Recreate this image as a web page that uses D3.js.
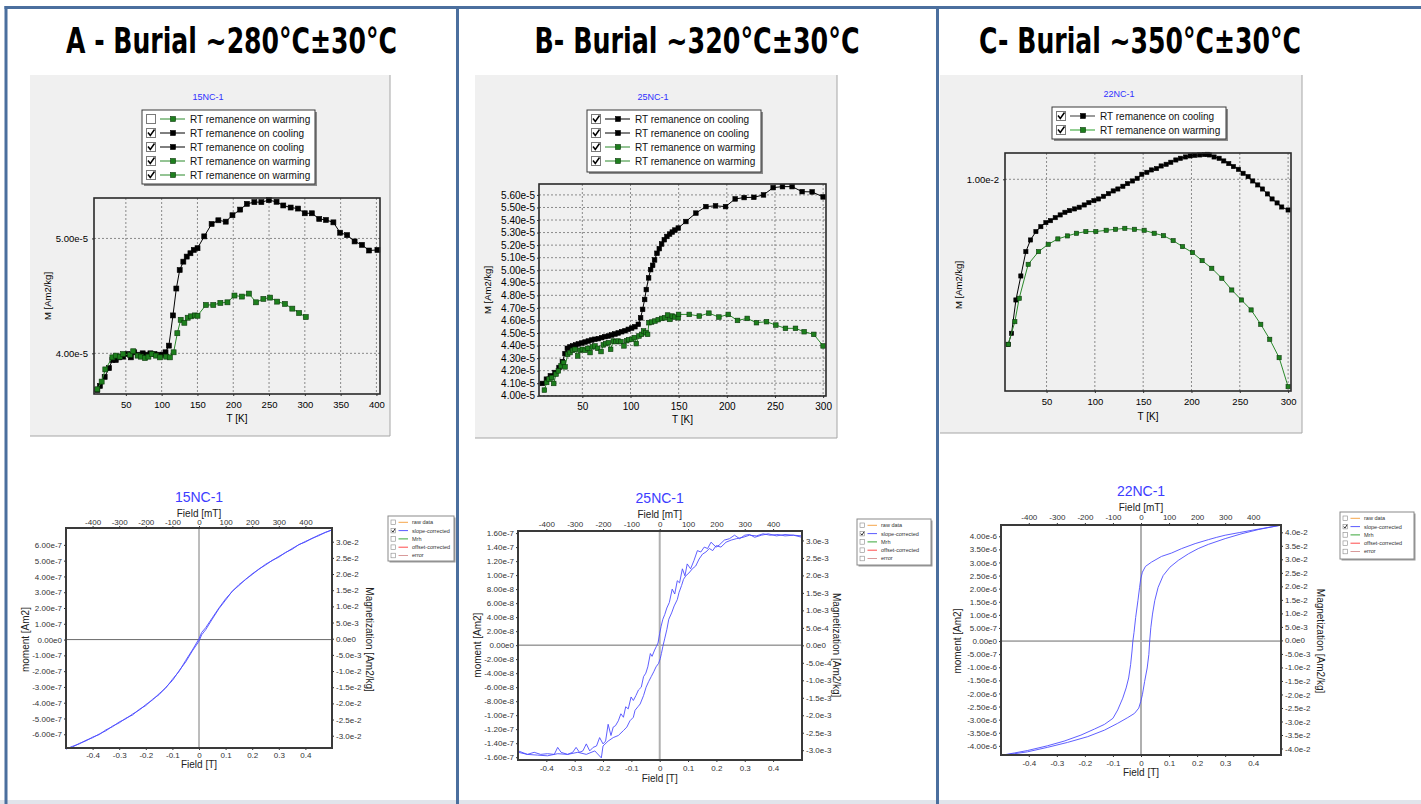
<!DOCTYPE html>
<html>
<head>
<meta charset="utf-8">
<script src="https://cdn.jsdelivr.net/npm/d3@7"></script>
<style>
  body { margin: 0; background: #fff; }
  svg { display: block; font-family: "Liberation Sans", Arial, sans-serif; }
</style>
</head>
<body>
<svg width="1421" height="804"></svg>
<script>
// ---- panel headings / sample names
const panelTitles = ["A - Burial ~280°C±30°C", "B- Burial ~320°C±30°C", "C- Burial ~350°C±30°C"];
const sampleNames = ["15NC-1", "25NC-1", "22NC-1"];

// ---- RT remanence curves (T in K, M in units of 1e-5 for A/B, 1e-2 for C)
const rtA_coolT = [10.1,13.8,20.4,26.5,31.2,35.9,40.6,46.2,52.3,57.0,61.7,67.4,73.5,79.6,84.3,89.9,95.6,101.7,105.4,110.1,115.8,120.5,125.2,130.3,135.0,140.2,144.9,150.1,159.5,169.8,179.2,189.5,198.9,209.7,219.1,229.5,239.3,249.7,260.5,269.9,280.2,290.5,299.9,309.8,320.1,329.5,339.9,349.3,359.1,369.5,379.8,389.7,401.4];
const rtA_coolM = [3.681,3.716,3.795,3.871,3.942,3.942,3.965,3.971,3.994,3.965,4.009,3.988,4.0,3.988,4.0,3.994,3.988,3.988,4.009,4.067,4.330,4.564,4.725,4.798,4.842,4.871,4.900,4.915,5.018,5.126,5.158,5.146,5.202,5.251,5.301,5.316,5.316,5.333,5.319,5.287,5.269,5.260,5.219,5.219,5.170,5.161,5.140,5.050,5.029,4.974,4.944,4.895,4.900];
const rtA_warmT = [10.1,16.2,21.3,31.2,35.9,41.5,46.2,55.6,60.3,66.4,71.1,76.8,81.5,86.2,92.3,97.9,106.4,111.5,116.7,121.9,126.6,131.7,136.4,141.1,146.3,150.1,161.8,172.1,182.0,191.9,201.7,212.1,221.9,231.8,242.1,251.5,261.4,272.2,282.5,292.0,301.3];
const rtA_warmM = [3.687,3.754,3.860,3.965,3.980,3.971,3.994,3.988,4.018,3.980,3.971,3.959,3.971,3.994,3.980,3.965,3.971,3.965,4.009,4.175,4.292,4.266,4.310,4.322,4.330,4.327,4.421,4.421,4.439,4.444,4.503,4.494,4.520,4.444,4.474,4.485,4.450,4.430,4.389,4.351,4.316];

const rtB_coolT = [8.5,12.7,16.8,21.6,25.8,29.3,32.0,34.4,37.2,40.0,43.1,45.9,49.3,52.8,56.2,59.7,63.1,66.6,70.1,73.5,77.0,80.4,83.9,87.3,90.8,94.3,97.7,101.2,104.6,108.1,110.5,112.6,114.7,116.4,118.8,120.9,123.0,125.0,127.5,129.9,132.3,135.1,137.8,140.6,143.4,146.1,149.6,157.5,167.9,178.3,188.3,198.7,208.7,218.0,228.1,238.1,248.1,257.8,267.8,278.2,288.6,300.0];
const rtB_coolM = [4.098,4.132,4.159,4.185,4.225,4.272,4.336,4.378,4.389,4.397,4.405,4.413,4.420,4.428,4.436,4.444,4.450,4.455,4.463,4.471,4.476,4.484,4.492,4.500,4.510,4.518,4.529,4.539,4.550,4.569,4.621,4.688,4.767,4.846,4.939,5.005,5.039,5.082,5.135,5.172,5.209,5.243,5.269,5.288,5.304,5.320,5.336,5.388,5.455,5.507,5.513,5.507,5.568,5.579,5.581,5.600,5.658,5.666,5.666,5.626,5.624,5.584];
const rtB_warmT = [10.6,13.0,15.4,18.2,20.3,22.7,25.1,27.9,30.3,32.0,34.8,37.2,40.0,42.4,45.2,47.6,50.0,52.8,55.5,58.0,60.4,63.1,65.9,69.4,71.8,74.2,77.0,79.4,82.2,84.6,87.3,90.1,93.2,96.0,98.4,101.2,103.9,106.0,108.8,111.5,113.6,116.1,117.8,119.2,121.9,125.4,128.8,132.3,135.8,138.5,140.9,143.4,146.1,149.6,149.9,161.0,171.4,181.4,191.8,201.5,211.1,221.2,230.8,241.2,250.9,260.9,271.3,280.3,290.3,300.0];
const rtB_warmM = [4.045,4.106,4.132,4.145,4.098,4.172,4.198,4.238,4.264,4.230,4.330,4.344,4.362,4.370,4.317,4.362,4.370,4.362,4.378,4.344,4.389,4.397,4.378,4.352,4.405,4.415,4.423,4.370,4.436,4.431,4.436,4.431,4.397,4.439,4.447,4.450,4.463,4.415,4.476,4.489,4.516,4.502,4.489,4.582,4.587,4.595,4.606,4.616,4.621,4.643,4.608,4.635,4.627,4.621,4.648,4.648,4.635,4.658,4.627,4.648,4.600,4.616,4.582,4.590,4.563,4.537,4.537,4.510,4.489,4.397];

const rtC_coolT = [10.3,13.8,18.3,23.4,28.6,33.4,39.0,44.1,49.3,54.1,59.0,64.1,69.0,73.8,79.0,83.8,89.0,93.8,99.0,103.8,109.0,114.1,119.0,123.8,129.0,133.8,139.0,143.8,148.6,153.8,158.6,163.8,168.6,173.8,178.6,183.8,188.6,193.8,198.6,203.4,208.6,213.4,216.6,218.6,223.4,228.6,233.4,238.6,243.4,248.6,253.4,258.6,263.4,268.6,273.4,278.6,283.4,288.6,293.4,300.0];
const rtC_coolM = [0.8129,0.8254,0.8632,0.8904,0.9180,0.9312,0.9407,0.9463,0.9509,0.9531,0.9565,0.9596,0.9626,0.9645,0.9664,0.9683,0.9709,0.9735,0.9758,0.9777,0.9807,0.9837,0.9868,0.9890,0.9921,0.9951,0.9981,1.0011,1.0057,1.0079,1.0106,1.0121,1.0151,1.0170,1.0193,1.0219,1.0238,1.0253,1.0265,1.0272,1.0276,1.0280,1.0283,1.0276,1.0253,1.0238,1.0208,1.0178,1.0144,1.0113,1.0068,1.0030,0.9981,0.9936,0.9890,0.9834,0.9777,0.9732,0.9686,0.9652];
const rtC_warmT = [10.3,17.2,21.7,31.0,41.7,51.7,61.7,71.7,81.0,90.7,101.0,111.7,121.4,131.0,141.0,151.0,161.4,171.0,181.0,190.7,201.0,211.0,221.0,231.4,241.7,251.7,261.7,271.7,281.0,290.7,300.0];
const rtC_warmM = [0.8129,0.8386,0.8651,0.9036,0.9180,0.9263,0.9324,0.9358,0.9388,0.9407,0.9407,0.9422,0.9433,0.9444,0.9433,0.9422,0.9388,0.9361,0.9305,0.9237,0.9169,0.9078,0.8991,0.8878,0.8745,0.8632,0.8519,0.8356,0.8186,0.7978,0.7649];

// ---- RT tick values
const rtA_xTicks = [50, 100, 150, 200, 250, 300, 350, 400];
const rtA_yTicks = [4e-5, 5e-5];
const rtB_xTicks = [50, 100, 150, 200, 250, 300];
const rtB_yTicks = [4.0e-5, 4.1e-5, 4.2e-5, 4.3e-5, 4.4e-5, 4.5e-5, 4.6e-5, 4.7e-5, 4.8e-5, 4.9e-5, 5.0e-5, 5.1e-5, 5.2e-5, 5.3e-5, 5.4e-5, 5.5e-5, 5.6e-5];
const rtC_xTicks = [50, 100, 150, 200, 250, 300];
const rtC_yTicks = [1e-2];

// ---- RT legends
const rtA_legendLabels = ["RT remanence on warming", "RT remanence on cooling", "RT remanence on cooling", "RT remanence on warming", "RT remanence on warming"];
const rtA_legendChecked = [false, true, true, true, true];
const rtB_legendLabels = ["RT remanence on cooling", "RT remanence on cooling", "RT remanence on warming", "RT remanence on warming"];
const rtB_legendChecked = [true, true, true, true];
const rtC_legendLabels = ["RT remanence on cooling", "RT remanence on warming"];
const rtC_legendChecked = [true, true];

// ---- hysteresis loops (field in T; moment in 1e-7 (A), 1e-8 (B), 1e-6 (C) Am2)
const loopA_downH = [0.500,0.475,0.450,0.425,0.400,0.375,0.350,0.325,0.300,0.275,0.250,0.225,0.200,0.175,0.150,0.125,0.100,0.075,0.050,0.025,0.010,0.000,-0.025,-0.050,-0.075,-0.100,-0.125,-0.150,-0.175,-0.200,-0.225,-0.250,-0.275,-0.300,-0.325,-0.350,-0.375,-0.400,-0.425,-0.450,-0.475,-0.500];
const loopA_downM = [6.95,6.78,6.62,6.40,6.22,6.00,5.77,5.50,5.27,5.00,4.77,4.45,4.17,3.80,3.48,3.05,2.58,2.00,1.38,0.75,0.45,0.05,-0.66,-1.32,-2.02,-2.52,-3.07,-3.43,-3.83,-4.12,-4.47,-4.72,-5.02,-5.22,-5.52,-5.72,-6.02,-6.18,-6.42,-6.58,-6.8,-6.93];
const loopA_upH = [-0.500,-0.475,-0.450,-0.425,-0.400,-0.375,-0.350,-0.325,-0.300,-0.275,-0.250,-0.225,-0.200,-0.175,-0.150,-0.125,-0.100,-0.075,-0.050,-0.025,0.000,0.010,0.025,0.050,0.075,0.100,0.125,0.150,0.175,0.200,0.225,0.250,0.275,0.300,0.325,0.350,0.375,0.400,0.425,0.450,0.475,0.500];
const loopA_upM = [-6.93,-6.76,-6.61,-6.38,-6.22,-5.98,-5.78,-5.48,-5.28,-4.98,-4.78,-4.43,-4.18,-3.79,-3.49,-3.03,-2.6,-1.98,-1.42,-0.72,-0.1,0.3,0.62,1.3,1.96,2.5,3.07,3.42,3.82,4.12,4.47,4.72,5.02,5.22,5.52,5.72,6.02,6.18,6.42,6.58,6.8,6.95];

const loopB_downH = [0.502,0.472,0.442,0.412,0.383,0.359,0.335,0.317,0.300,0.282,0.264,0.246,0.228,0.210,0.199,0.181,0.169,0.157,0.145,0.133,0.121,0.109,0.097,0.089,0.080,0.070,0.062,0.053,0.044,0.034,0.025,0.018,0.011,0.005,0,-0.006,-0.012,-0.018,-0.027,-0.033,-0.042,-0.049,-0.057,-0.065,-0.075,-0.084,-0.093,-0.101,-0.111,-0.120,-0.128,-0.137,-0.146,-0.156,-0.164,-0.172,-0.182,-0.191,-0.200,-0.212,-0.223,-0.235,-0.247,-0.259,-0.271,-0.283,-0.295,-0.307,-0.325,-0.348,-0.360,-0.372,-0.396,-0.420,-0.443,-0.467,-0.499];
const loopB_downM = [15.6,15.7,15.8,15.6,15.9,15.7,15.4,15.8,15.7,15.2,15.7,15.2,15.0,14.3,14.0,14.7,13.8,14.0,13.3,13.5,12.1,10.9,11.6,9.9,10.9,8.9,9.2,7.3,8.0,6.1,5.3,4.4,3.7,2.7,1.7,0.3,-0.2,-0.7,-1.6,-1.2,-3.1,-4.0,-4.5,-6.0,-6.4,-7.2,-7.9,-7.4,-9.1,-8.8,-10.3,-9.8,-10.8,-11.5,-11.7,-12.9,-11.3,-13.7,-14.1,-13.2,-14.4,-14.6,-15.1,-14.1,-15.1,-15.3,-14.6,-15.3,-15.6,-15.3,-14.6,-15.6,-15.5,-15.6,-15.3,-15.6,-15.3];
const loopB_upH = [-0.499,-0.467,-0.432,-0.396,-0.360,-0.325,-0.289,-0.259,-0.229,-0.206,-0.200,-0.182,-0.164,-0.146,-0.128,-0.116,-0.105,-0.093,-0.087,-0.077,-0.069,-0.057,-0.048,-0.039,-0.030,-0.021,-0.013,-0.004,0.002,0.006,0.011,0.018,0.025,0.032,0.042,0.051,0.062,0.068,0.077,0.084,0.092,0.103,0.115,0.127,0.139,0.151,0.163,0.175,0.187,0.199,0.216,0.234,0.252,0.270,0.294,0.317,0.341,0.365,0.389,0.418,0.442,0.472,0.502];
const loopB_upM = [-15.1,-15.6,-15.7,-15.8,-15.5,-15.6,-15.3,-15.6,-15.1,-16.1,-14.4,-13.7,-13.2,-12.9,-12.2,-11.7,-10.8,-10.3,-9.3,-8.8,-8.4,-7.2,-6.0,-5.2,-4.5,-3.8,-3.1,-2.6,-1.9,-1.2,-0.2,1.0,2.2,3.7,4.6,5.6,6.5,7.5,8.5,9.4,9.9,10.3,10.9,11.3,12.3,13.0,13.3,13.8,13.5,14.2,14.0,14.7,15.0,15.2,15.4,15.7,15.6,15.9,15.7,15.8,15.6,15.7,15.4];

const loopC_downH = [0.497,0.450,0.396,0.350,0.300,0.270,0.240,0.193,0.145,0.109,0.073,0.037,0.016,0.005,-0.001,-0.005,-0.011,-0.019,-0.025,-0.029,-0.032,-0.037,-0.044,-0.053,-0.065,-0.083,-0.100,-0.130,-0.166,-0.214,-0.274,-0.334,-0.405,-0.450,-0.497];
const loopC_downM = [4.42,4.33,4.23,4.14,4.04,3.96,3.87,3.72,3.53,3.36,3.23,3.01,2.85,2.63,2.37,2.05,1.54,0.90,0.32,0.0,-0.38,-0.90,-1.41,-1.79,-2.18,-2.63,-2.95,-3.18,-3.36,-3.59,-3.82,-4.00,-4.18,-4.27,-4.36];
const loopC_upH = [-0.497,-0.450,-0.405,-0.334,-0.262,-0.190,-0.130,-0.083,-0.047,-0.023,-0.008,-0.001,0.005,0.013,0.022,0.028,0.031,0.035,0.041,0.049,0.061,0.079,0.103,0.133,0.169,0.204,0.240,0.300,0.360,0.420,0.497];
const loopC_upM = [-4.36,-4.30,-4.23,-4.06,-3.87,-3.65,-3.40,-3.14,-2.92,-2.76,-2.56,-2.31,-2.05,-1.54,-1.03,-0.51,0.0,0.51,1.03,1.54,2.05,2.50,2.82,3.08,3.33,3.53,3.69,3.91,4.10,4.26,4.42];

// ---- hysteresis tick values
const loopFieldTicksT = [-0.4, -0.3, -0.2, -0.1, 0, 0.1, 0.2, 0.3, 0.4];
const loopFieldTicksmT = [-400, -300, -200, -100, 0, 100, 200, 300, 400];
const loopA_momentTicks = [-6e-7, -5e-7, -4e-7, -3e-7, -2e-7, -1e-7, 0, 1e-7, 2e-7, 3e-7, 4e-7, 5e-7, 6e-7];
const loopA_magTicks = [-3.0e-2, -2.5e-2, -2.0e-2, -1.5e-2, -1.0e-2, -5.0e-3, 0, 5.0e-3, 1.0e-2, 1.5e-2, 2.0e-2, 2.5e-2, 3.0e-2];
const loopB_momentTicks = [-1.6e-7, -1.4e-7, -1.2e-7, -1.0e-7, -8e-8, -6e-8, -4e-8, -2e-8, 0, 2e-8, 4e-8, 6e-8, 8e-8, 1.0e-7, 1.2e-7, 1.4e-7, 1.6e-7];
const loopB_magTicks = [-3.0e-3, -2.5e-3, -2.0e-3, -1.5e-3, -1.0e-3, -5.0e-4, 0, 5.0e-4, 1.0e-3, 1.5e-3, 2.0e-3, 2.5e-3, 3.0e-3];
const loopC_momentTicks = [-4.0e-6, -3.5e-6, -3.0e-6, -2.5e-6, -2.0e-6, -1.5e-6, -1.0e-6, -5e-7, 0, 5e-7, 1.0e-6, 1.5e-6, 2.0e-6, 2.5e-6, 3.0e-6, 3.5e-6, 4.0e-6];
const loopC_magTicks = [-4.0e-2, -3.5e-2, -3.0e-2, -2.5e-2, -2.0e-2, -1.5e-2, -1.0e-2, -5.0e-3, 0, 5.0e-3, 1.0e-2, 1.5e-2, 2.0e-2, 2.5e-2, 3.0e-2, 3.5e-2, 4.0e-2];

const loopLegendLabels = ["raw data", "slope-corrected", "Mrh", "offset-corrected", "error"];
const loopLegendColors = ["#f5a54a", "#5b5bff", "#3aa63a", "#ff4a4a", "#d89a9a"];
const loopLegendChecked = [false, true, false, false, false];

const svg = d3.select("svg");
const frameColor = "#4b6f9e";
const smallFont = "'Liberation Sans', Arial, sans-serif";

function eFmt(p) {
  const f = d3.format("." + p + "e");
  return d => f(Math.abs(d) < 1e-20 ? 0 : d).replace("\u2212", "-").replace("e+", "e");
}
function plainFmt(d) { return String(+d.toFixed(2)).replace("\u2212", "-"); }

function styleAxis(a, size, color) {
  a.attr("font-family", smallFont).attr("font-size", size);
  a.select(".domain").remove();
  a.selectAll("text").attr("fill", color);
  a.selectAll("line").attr("stroke", "#333");
}

// ---------------- RT remanence charts
function drawRT(c) {
  const g = svg.append("g");
  const [bx, by, bw, bh] = c.box;
  g.append("rect").attr("x", bx).attr("y", by).attr("width", bw).attr("height", bh).attr("fill", "#f0f0f0");
  g.append("path").attr("d", `M${bx + bw},${by}V${by + bh}H${bx}`)
    .attr("fill", "none").attr("stroke", "#a6a6a6");

  g.append("text").attr("x", c.name[0]).attr("y", c.name[1]).attr("text-anchor", "middle")
    .attr("font-size", 9).attr("fill", "#2f2fff").text(c.sample);

  const [px, py, pw, ph] = c.plot;
  const x = d3.scaleLinear().domain(c.xDomain).range([px, px + pw]);
  const y = d3.scaleLinear().domain(c.yDomain).range([py + ph, py]);

  g.append("g").selectAll("line").data(c.xTicks).join("line")
    .attr("x1", d => x(d)).attr("x2", d => x(d)).attr("y1", py).attr("y2", py + ph)
    .attr("stroke", "#8a8a8a").attr("stroke-dasharray", "2,2");
  g.append("g").selectAll("line").data(c.yTicks).join("line")
    .attr("x1", px).attr("x2", px + pw).attr("y1", d => y(d)).attr("y2", d => y(d))
    .attr("stroke", "#8a8a8a").attr("stroke-dasharray", "2,2");

  const xa = g.append("g").attr("transform", `translate(0,${py + ph})`)
    .call(d3.axisBottom(x).tickValues(c.xTicks).tickSize(2).tickPadding(c.xPad).tickFormat(d3.format("d")));
  const ya = g.append("g").attr("transform", `translate(${px},0)`)
    .call(d3.axisLeft(y).tickValues(c.yTicks).tickSize(2).tickPadding(c.yPad).tickFormat(eFmt(2)));
  styleAxis(xa, c.tickFont, "#000");
  styleAxis(ya, c.tickFont, "#000");

  const line = d3.line().x(d => x(d.t)).y(d => y(d.m));
  c.series.forEach(s => {
    const rows = s.T.map((t, i) => ({ t, m: s.M[i] * c.unit }));
    const cool = s.kind === "cool";
    g.append("path").datum(rows).attr("d", line).attr("fill", "none")
      .attr("stroke", cool ? "#000" : "#2b8a2b").attr("stroke-width", 1);
    g.append("g").selectAll("rect").data(rows).join("rect")
      .attr("x", d => x(d.t) - c.mk / 2).attr("y", d => y(d.m) - c.mk / 2)
      .attr("width", c.mk).attr("height", c.mk)
      .attr("fill", cool ? "#000" : "#1d7f1d")
      .attr("stroke", cool ? "#000" : "#0c380c").attr("stroke-width", 0.6);
  });

  g.append("rect").attr("x", px).attr("y", py).attr("width", pw).attr("height", ph)
    .attr("fill", "none").attr("stroke", "#2a2a2a").attr("stroke-width", 1.6);

  g.append("text").attr("x", px + pw / 2).attr("y", c.xLabelY).attr("text-anchor", "middle")
    .attr("font-size", 10).attr("font-family", smallFont).text("T [K]");
  g.append("text").attr("transform", `translate(${c.yLabel[0]},${c.yLabel[1]}) rotate(-90)`)
    .attr("text-anchor", "middle").attr("dominant-baseline", "central")
    .attr("font-size", 9.5).attr("font-family", smallFont).text("M [Am2/kg]");

  // legend
  const [lx, ly, lw, lh] = c.legendBox;
  g.append("rect").attr("x", lx + 2).attr("y", ly + 2).attr("width", lw).attr("height", lh).attr("fill", "#8a8a8a");
  g.append("rect").attr("x", lx).attr("y", ly).attr("width", lw).attr("height", lh)
    .attr("fill", "#fff").attr("stroke", "#3a3a3a");
  const items = c.legendLabels.map((label, i) => ({ label, on: c.legendChecked[i], cool: label.includes("cooling") }));
  const row = g.append("g").selectAll("g").data(items).join("g")
    .attr("transform", (d, i) => `translate(${lx},${c.legendRow0 + i * 14})`);
  row.append("rect").attr("x", 4.5).attr("y", -4.5).attr("width", 9).attr("height", 9)
    .attr("fill", "#fff").attr("stroke", "#7a7a7a");
  row.filter(d => d.on).append("path").attr("d", "M6,-0.5 L8.3,2.5 L12.5,-3.5")
    .attr("fill", "none").attr("stroke", "#000").attr("stroke-width", 1.5);
  row.append("line").attr("x1", 18).attr("x2", 43)
    .attr("stroke", d => d.cool ? c.coolLegend : c.warmLegend).attr("stroke-width", c.legendLineW);
  row.append("rect").attr("x", 28.5).attr("y", -2.5).attr("width", 5).attr("height", 5)
    .attr("fill", d => d.cool ? "#000" : "#1d7f1d").attr("stroke", d => d.cool ? "#000" : "#0c380c").attr("stroke-width", 0.6);
  row.append("text").attr("x", 48).attr("y", 3.6).attr("font-size", 10).attr("font-family", smallFont)
    .attr("fill", "#111").text(d => d.label);
}

// ---------------- hysteresis loops
function drawLoop(c) {
  const g = svg.append("g");
  const [px, py, pw, ph] = c.plot;
  const x = d3.scaleLinear().domain(c.xDomain).range([px, px + pw]);
  const xm = d3.scaleLinear().domain(c.xDomain.map(v => v * 1000)).range([px, px + pw]);
  const yl = d3.scaleLinear().domain(c.yLeft).range([py + ph, py]);
  const yr = d3.scaleLinear().domain(c.yRight).range([py + ph, py]);

  g.append("rect").attr("x", px).attr("y", py).attr("width", pw).attr("height", ph).attr("fill", "#fff");
  g.append("line").attr("x1", px).attr("x2", px + pw).attr("y1", yl(0)).attr("y2", yl(0))
    .attr("stroke", "#6a6a6a").attr("stroke-width", 1);
  g.append("line").attr("x1", x(0)).attr("x2", x(0)).attr("y1", py).attr("y2", py + ph)
    .attr("stroke", c.vColor).attr("stroke-width", c.vWidth);

  const line = d3.line().x(d => x(d.h)).y(d => yl(d.m));
  c.branches.forEach(b => {
    const rows = b.H.map((h, i) => ({ h, m: b.M[i] * c.unit }));
    g.append("path").datum(rows).attr("d", line).attr("fill", "none")
      .attr("stroke", "#4d4dff").attr("stroke-width", 0.9);
  });

  const top = g.append("g").attr("transform", `translate(0,${py})`)
    .call(d3.axisTop(xm).tickValues(loopFieldTicksmT).tickSize(2).tickPadding(c.topPad).tickFormat(d => String(d)));
  const bot = g.append("g").attr("transform", `translate(0,${py + ph})`)
    .call(d3.axisBottom(x).tickValues(loopFieldTicksT).tickSize(2).tickPadding(c.botPad).tickFormat(plainFmt));
  const left = g.append("g").attr("transform", `translate(${px},0)`)
    .call(d3.axisLeft(yl).tickValues(c.leftTicks).tickSize(2).tickPadding(2).tickFormat(eFmt(2)));
  const right = g.append("g").attr("transform", `translate(${px + pw},0)`)
    .call(d3.axisRight(yr).tickValues(c.rightTicks).tickSize(2).tickPadding(2).tickFormat(eFmt(1)));
  [top, bot, left, right].forEach(a => styleAxis(a, 8, "#333"));
  top.selectAll("text").text(d => String(d).replace("\u2212", "-"));

  g.append("rect").attr("x", px).attr("y", py).attr("width", pw).attr("height", ph)
    .attr("fill", "none").attr("stroke", "#3a3a3a").attr("stroke-width", 2);

  const cx = x(0);
  g.append("text").attr("x", cx).attr("y", c.titleY).attr("text-anchor", "middle")
    .attr("font-size", 14).attr("fill", "#3c3cff").attr("font-family", smallFont).text(c.sample);
  g.append("text").attr("x", cx).attr("y", c.mTLabelY).attr("text-anchor", "middle")
    .attr("font-size", 10).attr("fill", "#222").attr("font-family", smallFont).text("Field [mT]");
  g.append("text").attr("x", cx).attr("y", c.TLabelY).attr("text-anchor", "middle")
    .attr("font-size", 10).attr("fill", "#222").attr("font-family", smallFont).text("Field [T]");
  g.append("text").attr("transform", `translate(${c.leftLabelX},${yl(0)}) rotate(-90)`)
    .attr("text-anchor", "middle").attr("dominant-baseline", "central")
    .attr("font-size", 10).attr("fill", "#222").attr("font-family", smallFont).text("moment [Am2]");
  g.append("text").attr("transform", `translate(${c.rightLabelX},${yl(0)}) rotate(90)`)
    .attr("text-anchor", "middle").attr("dominant-baseline", "central")
    .attr("font-size", 10).attr("fill", "#222").attr("font-family", smallFont).text("Magnetization [Am2/kg]");

  // legend
  const [lx, ly, lw, lh] = c.legendBox;
  g.append("rect").attr("x", lx + 1.5).attr("y", ly + 1.5).attr("width", lw).attr("height", lh).attr("fill", "#9a9a9a");
  g.append("rect").attr("x", lx).attr("y", ly).attr("width", lw).attr("height", lh)
    .attr("fill", "#fff").attr("stroke", "#8a8a8a");
  const items = loopLegendLabels.map((label, i) => ({ label, color: loopLegendColors[i], on: loopLegendChecked[i] }));
  const row = g.append("g").selectAll("g").data(items).join("g")
    .attr("transform", (d, i) => `translate(${lx},${ly + 6.3 + i * 8.3})`);
  row.append("rect").attr("x", 3).attr("y", -2.3).attr("width", 4.6).attr("height", 4.6)
    .attr("fill", "#fff").attr("stroke", "#888").attr("stroke-width", 0.6);
  row.filter(d => d.on).append("path").attr("d", "M3.8,0 L5,1.5 L7,-1.8")
    .attr("fill", "none").attr("stroke", "#000").attr("stroke-width", 0.8);
  row.append("line").attr("x1", 10.5).attr("x2", 20).attr("stroke", d => d.color).attr("stroke-width", 1);
  row.append("text").attr("x", 24).attr("y", 1.9).attr("font-size", 5.5).attr("font-family", smallFont)
    .attr("fill", "#333").text(d => d.label);
}

// ---------------- configs
drawRT({
  box: [30, 75, 360, 361], name: [208, 100], sample: sampleNames[0],
  plot: [94, 198, 286, 196], xDomain: [5.5, 405], yDomain: [3.646e-5, 5.352e-5], unit: 1e-5,
  xTicks: rtA_xTicks, yTicks: rtA_yTicks, xPad: 5, yPad: 4, tickFont: 9.5, mk: 5,
  xLabelY: 422, yLabel: [47, 296],
  legendBox: [142, 110, 173, 74], legendRow0: 119, legendLabels: rtA_legendLabels, legendChecked: rtA_legendChecked,
  coolLegend: "#000", warmLegend: "#2b8a2b", legendLineW: 1,
  series: [{ T: rtA_coolT, M: rtA_coolM, kind: "cool" }, { T: rtA_warmT, M: rtA_warmM, kind: "warm" }]
});
drawRT({
  box: [475, 75, 362, 363], name: [653, 100], sample: sampleNames[1],
  plot: [539, 184, 287, 212], xDomain: [5, 303], yDomain: [3.998e-5, 5.687e-5], unit: 1e-5,
  xTicks: rtB_xTicks, yTicks: rtB_yTicks, xPad: 5, yPad: 2, tickFont: 10, mk: 4.6,
  xLabelY: 423, yLabel: [487, 290],
  legendBox: [587, 110, 174, 62], legendRow0: 119, legendLabels: rtB_legendLabels, legendChecked: rtB_legendChecked,
  coolLegend: "#000", warmLegend: "#2b8a2b", legendLineW: 1,
  series: [{ T: rtB_coolT, M: rtB_coolM, kind: "cool" }, { T: rtB_warmT, M: rtB_warmM, kind: "warm" }]
});
drawRT({
  box: [940, 75, 362, 358], name: [1119, 97], sample: sampleNames[2],
  plot: [1005, 153, 286, 238], xDomain: [7, 303], yDomain: [0.76e-2, 1.0298e-2], unit: 1e-2,
  xTicks: rtC_xTicks, yTicks: rtC_yTicks, xPad: 5, yPad: 4, tickFont: 9.5, mk: 4.2,
  xLabelY: 420, yLabel: [958, 285],
  legendBox: [1052, 107, 174, 32], legendRow0: 116, legendLabels: rtC_legendLabels, legendChecked: rtC_legendChecked,
  coolLegend: "#7a7a7a", warmLegend: "#6fbf6f", legendLineW: 1.5,
  series: [{ T: rtC_coolT, M: rtC_coolM, kind: "cool" }, { T: rtC_warmT, M: rtC_warmM, kind: "warm" }]
});

drawLoop({
  sample: sampleNames[0], plot: [66, 528, 266, 220], xDomain: [-0.5, 0.5],
  yLeft: [-6.87e-7, 7.07e-7], yRight: [-3.38e-2, 3.424e-2], unit: 1e-7,
  leftTicks: loopA_momentTicks, rightTicks: loopA_magTicks,
  topPad: 1, botPad: 2, titleY: 502, mTLabelY: 517, TLabelY: 768, leftLabelX: 25, rightLabelX: 369,
  vColor: "#7a7a7a", vWidth: 1, legendBox: [388, 516, 66, 45],
  branches: [{ H: loopA_downH, M: loopA_downM }, { H: loopA_upH, M: loopA_upM }]
});
drawLoop({
  sample: sampleNames[1], plot: [518, 531, 284, 229], xDomain: [-0.5, 0.502],
  yLeft: [-1.64e-7, 1.63e-7], yRight: [-3.28e-3, 3.27e-3], unit: 1e-8,
  leftTicks: loopB_momentTicks, rightTicks: loopB_magTicks,
  topPad: 2, botPad: 3, titleY: 503, mTLabelY: 518, TLabelY: 782, leftLabelX: 477, rightLabelX: 836,
  vColor: "#b0b0b0", vWidth: 2, legendBox: [857, 519, 74, 46],
  branches: [{ H: loopB_downH, M: loopB_downM }, { H: loopB_upH, M: loopB_upM }]
});
drawLoop({
  sample: sampleNames[2], plot: [1001, 525, 280, 230], xDomain: [-0.499, 0.499],
  yLeft: [-4.35e-6, 4.43e-6], yRight: [-4.24e-2, 4.27e-2], unit: 1e-6,
  leftTicks: loopC_momentTicks, rightTicks: loopC_magTicks,
  topPad: 3, botPad: 3, titleY: 496, mTLabelY: 511, TLabelY: 776, leftLabelX: 957, rightLabelX: 1320,
  vColor: "#b0b0b0", vWidth: 2, legendBox: [1340, 512, 74, 47],
  branches: [{ H: loopC_downH, M: loopC_downM }, { H: loopC_upH, M: loopC_upM }]
});

// ---------------- slide frame and headings
const frame = svg.append("g");
frame.append("rect").attr("x", 0).attr("y", 800).attr("width", 1421).attr("height", 4).attr("fill", "#e1e4eb");
frame.append("line").attr("x1", 4.5).attr("x2", 1421).attr("y1", 7.5).attr("y2", 7.5)
  .attr("stroke", frameColor).attr("stroke-width", 3);
[6, 457.5, 937.5].forEach(xv => {
  frame.append("line").attr("x1", xv).attr("x2", xv).attr("y1", 6).attr("y2", 804)
    .attr("stroke", frameColor).attr("stroke-width", 3);
});
const titleX = [231.5, 697, 1140], titleW = [331, 325, 322];
frame.selectAll("text.ptitle").data(panelTitles).join("text")
  .attr("class", "ptitle")
  .attr("x", (d, i) => titleX[i]).attr("y", 53).attr("text-anchor", "middle")
  .attr("font-family", "'Liberation Sans Narrow', 'DejaVu Sans Condensed', 'Arial Narrow', sans-serif")
  .attr("font-weight", "bold").attr("font-size", 35)
  .attr("textLength", (d, i) => titleW[i]).attr("lengthAdjust", "spacingAndGlyphs")
  .attr("fill", "#000").text(d => d);
</script>
</body>
</html>
